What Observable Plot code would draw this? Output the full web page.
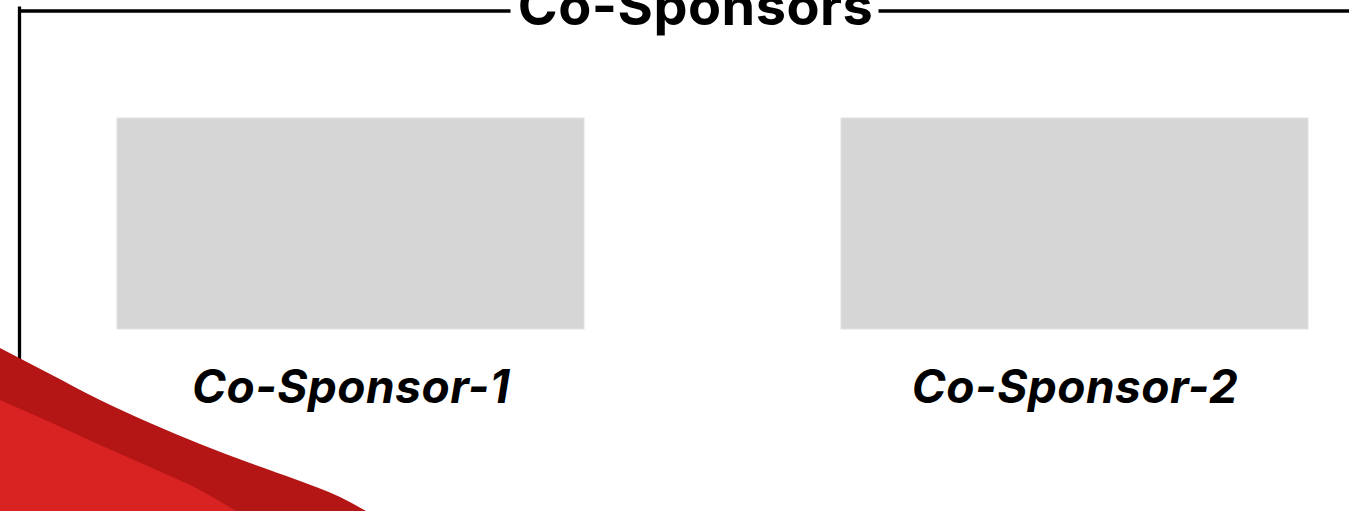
<!DOCTYPE html>
<html>
<head>
<meta charset="utf-8">
<script src="https://cdn.jsdelivr.net/npm/d3@7"></script>
<script src="https://cdn.jsdelivr.net/npm/@observablehq/plot@0.6"></script>
<style>
  html, body { margin: 0; padding: 0; background: #ffffff; overflow: hidden; }
  #chart svg { display: block; }
  .title-text text { letter-spacing: 0.5px; }
  .label-text text { letter-spacing: 0.5px; }
</style>
</head>
<body>
<div id="chart"></div>
<script>
// ---- data (design coordinates, y grows downward) ----
const titleText = ["Co-Sponsors"];
const sponsors = ["Co-Sponsor-1", "Co-Sponsor-2"];
const slotX1 = [117, 841];
const slotX2 = [584, 1308];
const slotY1 = [118, 118];
const slotY2 = [329, 329];
// frame segments: [x1, y1, x2, y2]
const frameSegments = [
  [19, 10.5, 510, 10.5],
  [878, 10.5, 1349, 10.5],
  [19, 6, 19, 372]
];
// red swoosh boundaries (x, y)
const darkEdgeX = [0, 50, 100, 150, 200, 250, 300, 340, 366];
const darkEdgeY = [348, 374, 400, 423, 444, 463, 481, 497, 511];
const brightEdgeX = [0, 50, 100, 150, 200, 236];
const brightEdgeY = [400, 422, 445, 467, 490, 511];

const W = 1349, H = 511;

const slots = sponsors.map((name, i) => ({
  name, x1: slotX1[i], x2: slotX2[i], y1: slotY1[i], y2: slotY2[i],
  cx: (slotX1[i] + slotX2[i]) / 2
}));
const frame = frameSegments.map(([x1, y1, x2, y2]) => ({x1, y1, x2, y2}));
const dark = darkEdgeX.map((x, i) => ({x, y: darkEdgeY[i]}));
const bright = brightEdgeX.map((x, i) => ({x, y: brightEdgeY[i]}));

const plot = Plot.plot({
  width: W,
  height: H,
  margin: 0,
  x: {type: "linear", domain: [0, W], range: [0, W], axis: null},
  y: {type: "linear", domain: [0, H], range: [0, H], axis: null},
  style: {background: "#ffffff", overflow: "hidden"},
  marks: [
    // slots
    Plot.rect(slots, {x1: "x1", x2: "x2", y1: "y1", y2: "y2", fill: "#d6d6d6", stroke: "#e2e2e2", strokeWidth: 1}),
    // frame
    Plot.link(frame, {x1: "x1", y1: "y1", x2: "x2", y2: "y2", stroke: "#000000", strokeWidth: 3.3}),
    // title
    Plot.text(titleText, {
      x: () => 695, y: () => 24, text: d => d,
      textAnchor: "middle", lineAnchor: "bottom", className: "title-text",
      fontFamily: "Inter, 'Open Sans', sans-serif", fontWeight: 700, fontSize: 54, fill: "#000000"
    }),
    // labels
    Plot.text(slots, {
      x: "cx", y: () => 402, text: "name",
      textAnchor: "middle", lineAnchor: "bottom", className: "label-text",
      fontFamily: "Inter, 'Open Sans', sans-serif", fontWeight: 700, fontStyle: "italic", fontSize: 46, fill: "#000000"
    }),
    // red swoosh
    Plot.areaY(dark, {x: "x", y1: () => H, y2: "y", fill: "#b41515", curve: "monotone-x"}),
    Plot.areaY(bright, {x: "x", y1: () => H, y2: "y", fill: "#d92222", curve: "monotone-x"})
  ]
});
document.getElementById("chart").appendChild(plot);
</script>
</body>
</html>
